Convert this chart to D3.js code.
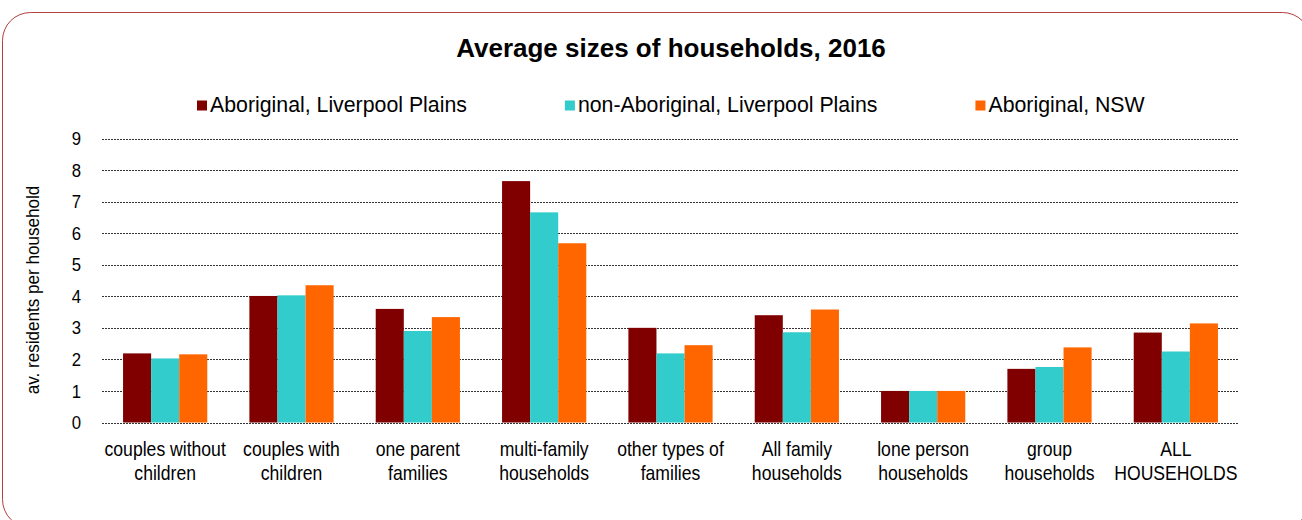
<!DOCTYPE html>
<html><head><meta charset="utf-8">
<script src="https://cdn.jsdelivr.net/npm/d3@7"></script>
<style>
html,body{margin:0;padding:0;background:#fff;}
text{font-family:"Liberation Sans",Arial,sans-serif;fill:#000;}
</style></head>
<body><svg id="c" width="1302" height="520"></svg>
<script>
const categories = [
  ["couples without","children"],
  ["couples with","children"],
  ["one parent","families"],
  ["multi-family","households"],
  ["other types of","families"],
  ["All family","households"],
  ["lone person","households"],
  ["group","households"],
  ["ALL","HOUSEHOLDS"]
];
const seriesNames = ["Aboriginal, Liverpool Plains","non-Aboriginal, Liverpool Plains","Aboriginal, NSW"];
const seriesColors = ["#800000","#33CCCC","#FF6600"];
const aborigLP    = [2.19, 4.01, 3.60, 7.65, 3.00, 3.40, 1.00, 1.70, 2.85];
const nonAborigLP = [2.03, 4.03, 2.90, 6.66, 2.19, 2.86, 1.00, 1.76, 2.25];
const aborigNSW   = [2.16, 4.35, 3.34, 5.68, 2.45, 3.58, 1.00, 2.38, 3.14];
const yTicks = [0,1,2,3,4,5,6,7,8,9];
const title = "Average sizes of households, 2016";
const yTitle = "av. residents per household";

const seriesValues = [aborigLP, nonAborigLP, aborigNSW];
const svg = d3.select("#c");

// frame
svg.append("rect").attr("x",2.5).attr("y",12.5).attr("width",1308).attr("height",515)
  .attr("rx",28).attr("ry",28).attr("fill","none").attr("stroke","#b0403e").attr("stroke-width",1);

const x0 = d3.scaleBand().domain(d3.range(categories.length)).range([102,1239])
  .paddingInner(1/3).paddingOuter(1/6);
const x1 = d3.scaleBand().domain(d3.range(seriesNames.length)).range([0,x0.bandwidth()]);
const y = d3.scaleLinear().domain([0,9]).range([422.5,138.5]);

// gridlines
svg.append("g").selectAll("line").data(yTicks).join("line")
  .attr("x1",102).attr("x2",1239)
  .attr("y1",d=>Math.round(y(d))+0.5).attr("y2",d=>Math.round(y(d))+0.5)
  .attr("stroke","#333").attr("stroke-width",1).attr("stroke-dasharray","2,1");

// y axis labels
const ya = svg.append("g");
yTicks.forEach(d=>{
  ya.append("text").attr("transform",`translate(81,${y(d)}) scale(0.88,1)`)
    .attr("text-anchor","end").attr("dy","0.35em").attr("font-size",19)
    .text(d3.format("d")(d));
});

// bars
const g = svg.append("g");
categories.forEach((c,i)=>{
  seriesValues.forEach((vals,s)=>{
    g.append("rect")
      .attr("x",x0(i)+x1(s)).attr("width",x1.bandwidth())
      .attr("y",y(vals[i])).attr("height",y(0)-y(vals[i]))
      .attr("fill",seriesColors[s]);
  });
});

// x labels
const xl = svg.append("g");
categories.forEach((c,i)=>{
  const t = xl.append("text").attr("text-anchor","middle")
    .attr("font-size",20)
    .attr("transform",`translate(${x0(i)+x0.bandwidth()/2},0) scale(0.88,1)`);
  c.forEach((line,k)=>{
    t.append("tspan").attr("x",0).attr("y",456+k*24).text(line);
  });
});

// y title
svg.append("text").attr("transform","translate(39,290) rotate(-90) scale(0.9,1)")
  .attr("text-anchor","middle").attr("font-size",19)
  .text(yTitle);

// title
svg.append("text").attr("x",671).attr("y",57).attr("text-anchor","middle")
  .attr("font-size",26).attr("font-weight","bold").text(title);

// legend
const leg = svg.append("g");
let lx = 197;
seriesNames.forEach((n,s)=>{
  leg.append("rect").attr("x",lx).attr("y",100.5).attr("width",10).attr("height",10).attr("fill",seriesColors[s]);
  const t = leg.append("text").attr("x",lx+13).attr("y",112).attr("font-size",21.3).text(n);
  const w = t.node().getComputedTextLength();
  lx = lx + 13 + w + 98;
});
</script></body></html>
